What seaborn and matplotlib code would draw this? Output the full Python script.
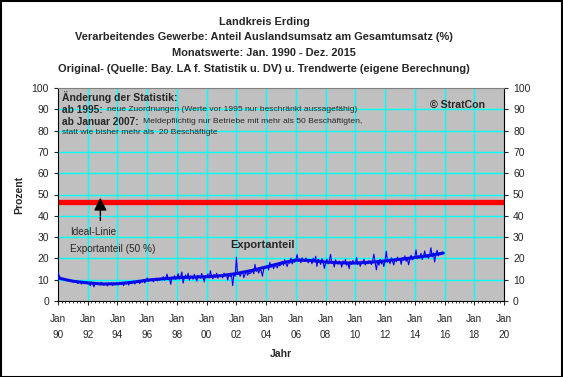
import numpy as np
import pandas as pd
import seaborn as sns
import matplotlib.pyplot as plt
from matplotlib.patches import Rectangle

# Monatswerte Exportanteil (%) Jan 1990 - Dez 2015
years = list(range(1990, 2016))
monthly = [
    [13.5, 11.8, 11.0, 10.2, 10.6, 9.8, 10.4, 9.5, 10.1, 9.2, 9.8, 9.6],
    [9.0, 9.6, 8.7, 9.3, 8.2, 9.1, 8.8, 7.9, 9.0, 8.6, 8.3, 9.2],
    [8.4, 8.1, 7.2, 8.9, 8.0, 6.6, 8.3, 8.6, 7.7, 8.2, 7.5, 8.8],
    [8.0, 7.4, 8.2, 7.9, 7.1, 8.3, 7.8, 8.5, 7.3, 8.0, 7.6, 8.4],
    [8.2, 7.6, 8.8, 7.9, 8.4, 7.2, 8.6, 8.0, 8.9, 7.5, 8.3, 9.0],
    [8.4, 9.3, 8.0, 9.0, 8.6, 9.5, 8.2, 9.1, 8.9, 9.8, 8.5, 9.6],
    [10.8, 9.2, 10.1, 9.6, 10.5, 9.0, 9.9, 10.7, 9.4, 10.2, 9.7, 10.4],
    [10.3, 11.4, 9.6, 10.8, 12.6, 10.0, 10.7, 7.8, 11.2, 10.5, 11.9, 10.1],
    [11.0, 12.8, 10.3, 11.5, 13.6, 8.4, 11.1, 12.2, 10.6, 13.0, 9.7, 11.8],
    [11.4, 10.2, 12.5, 11.0, 9.3, 12.1, 11.6, 10.7, 12.9, 11.2, 9.0, 12.0],
    [11.3, 12.7, 10.8, 14.2, 11.6, 10.4, 12.4, 11.1, 13.0, 10.7, 12.1, 11.5],
    [12.0, 10.9, 13.1, 11.8, 12.6, 9.8, 12.9, 11.4, 12.3, 7.2, 12.8, 11.6],
    [20.5, 12.4, 13.5, 11.6, 12.9, 13.7, 11.0, 12.6, 13.9, 12.1, 13.3, 12.8],
    [13.5, 14.4, 12.8, 17.2, 13.9, 14.8, 13.1, 15.0, 14.2, 11.6, 14.9, 15.3],
    [15.5, 16.4, 14.6, 18.1, 15.8, 16.9, 15.2, 17.0, 16.2, 15.6, 17.3, 16.5],
    [17.2, 18.6, 16.8, 19.4, 17.5, 16.2, 18.3, 17.7, 20.1, 17.4, 18.8, 18.2],
    [19.4, 21.8, 18.6, 19.9, 18.0, 20.3, 19.1, 18.7, 20.2, 19.5, 17.9, 19.3],
    [19.2, 17.5, 20.1, 18.4, 21.0, 16.2, 19.6, 18.8, 17.2, 19.9, 18.5, 15.3],
    [18.0, 19.6, 17.4, 18.9, 21.9, 17.6, 18.5, 16.0, 19.3, 18.1, 17.3, 18.7],
    [18.2, 15.9, 18.8, 17.5, 19.4, 16.8, 17.9, 15.2, 18.6, 17.2, 19.0, 17.8],
    [17.6, 20.4, 17.2, 18.3, 16.3, 18.7, 17.9, 19.6, 16.9, 18.2, 17.5, 18.9],
    [18.4, 17.1, 19.2, 22.0, 17.8, 14.6, 18.9, 16.8, 19.5, 17.4, 18.7, 16.2],
    [18.9, 23.4, 18.2, 19.6, 17.5, 20.3, 18.7, 16.9, 19.8, 18.4, 20.6, 19.1],
    [19.8, 17.2, 20.4, 19.1, 21.2, 18.6, 20.0, 17.0, 19.7, 21.5, 19.3, 20.2],
    [20.6, 24.0, 19.8, 21.3, 20.2, 22.4, 19.5, 21.0, 23.5, 20.4, 21.8, 19.9],
    [21.5, 25.0, 20.7, 22.6, 18.3, 21.9, 23.8, 21.2, 22.4, 21.7, 23.0, 22.5],
]

# Trendwerte (jeweils Januar, zuletzt Dezember 2015)
trend_x = [1990, 1991, 1992, 1993, 1994, 1995, 1996, 1997, 1998, 1999, 2000, 2001, 2002,
           2003, 2004, 2005, 2006, 2007, 2008, 2009, 2010, 2011, 2012, 2013, 2014, 2015, 2015 + 11 / 12]
trend_y = [10.8, 9.3, 8.5, 8.0, 8.1, 8.8, 9.8, 10.4, 10.9, 11.2, 11.4, 11.9, 12.9,
           14.3, 16.0, 17.8, 19.2, 19.0, 18.3, 17.9, 17.8, 18.2, 18.8, 19.6, 20.4, 21.4, 22.5]

ideal_line = 46.5
tick_years = list(range(1990, 2021, 2))
tick_labels = [f'Jan\n{y % 100:02d}' for y in tick_years]

df = pd.DataFrame({
    'Jahr': [y + m / 12 for y in years for m in range(12)],
    'Prozent': [v for row in monthly for v in row],
})
df_trend = pd.DataFrame({'Jahr': trend_x, 'Prozent': trend_y})

sns.set_style('ticks', {'axes.facecolor': '#C0C0C0', 'axes.edgecolor': 'black'})
plt.rcParams['font.family'] = ['Liberation Sans', 'DejaVu Sans']

fig = plt.figure(figsize=(5.63, 3.77), dpi=100)
ax = fig.add_axes([58 / 563, 76 / 377, 446 / 563, 213 / 377])

# Gitter
for y in range(10, 100, 10):
    ax.axhline(y, color='#00FFFF', lw=1, zorder=1)
for x in tick_years[1:-1]:
    ax.axvline(x, color='#00FFFF', lw=1, zorder=1)

ax.axhline(ideal_line, color='#FF0000', lw=3.8, zorder=2)

sns.lineplot(data=df, x='Jahr', y='Prozent', color='#0000FF', lw=0.8, ax=ax, zorder=3)
sns.lineplot(data=df_trend, x='Jahr', y='Prozent', color='#0A0AE6', lw=2.2, ax=ax, zorder=4)

ax.set_xlim(1990, 2020)
ax.set_ylim(0, 100)
ax.set_xticks(tick_years)
ax.set_xticklabels(tick_labels, fontsize=7.2, linespacing=1.75)
ax.set_xticks(np.arange(1990, 2020, 0.25), minor=True)
ax.set_yticks(range(0, 101, 10))
ax.tick_params(axis='y', labelsize=7.5, right=True, labelright=True, length=3, width=0.8)
ax.tick_params(axis='x', which='major', length=3, width=0.8, pad=6)
ax.tick_params(axis='x', which='minor', length=1.5, width=0.6)
ax.spines['top'].set_color('#808080')
ax.set_xlabel('Jahr', fontsize=7.5, fontweight='bold', labelpad=7)
ax.set_ylabel('Prozent', fontsize=7.5, fontweight='bold', labelpad=5)

# Titel
titles = ['Landkreis Erding',
          'Verarbeitendes Gewerbe: Anteil Auslandsumsatz am Gesamtumsatz (%)',
          'Monatswerte: Jan. 1990 - Dez. 2015',
          'Original- (Quelle: Bay. LA f. Statistik u. DV) u. Trendwerte (eigene Berechnung)']
for i, t in enumerate(titles):
    fig.text(264 / 563, 1 - (22 + i * 15.5) / 377, t, ha='center', va='center',
             fontsize=7.9, fontweight='bold')

# Hinweise
ax.text(1990.3, 95.8, 'Änderung der Statistik:', fontsize=7.5, fontweight='bold', va='center')
b1 = ax.text(1990.3, 89.8, 'ab 1995:', fontsize=7.3, fontweight='bold', va='center')
ax.annotate('neue Zuordnungen (Werte vor 1995 nur beschränkt aussagefähig)',
            xy=(1, 0.5), xycoords=b1, xytext=(3, 0), textcoords='offset points',
            fontsize=6.1, va='center')
b2 = ax.text(1990.3, 84.2, 'ab Januar 2007:', fontsize=7.3, fontweight='bold', va='center')
ax.annotate('Meldepflichtig nur Betriebe mit mehr als 50 Beschäftigten,',
            xy=(1, 0.5), xycoords=b2, xytext=(3, 0), textcoords='offset points',
            fontsize=6.1, va='center')
ax.text(1990.3, 79.0, 'statt wie bisher mehr als  20 Beschäftigte', fontsize=6.1, va='center')
ax.text(2015.0, 92, '© StratCon', fontsize=7.6, fontweight='bold', va='center')

ax.annotate('', xy=(1992.85, 49.8), xytext=(1992.85, 36.5),
            arrowprops=dict(arrowstyle='-|>,head_width=0.35,head_length=0.7', color='black',
                            lw=1, mutation_scale=11))
ax.text(1990.8, 32.5, 'Ideal-Linie', fontsize=7.2, va='center')
ax.text(1990.8, 24.5, 'Exportanteil (50 %)', fontsize=7.2, va='center')
ax.text(2001.6, 26.5, 'Exportanteil', fontsize=8, fontweight='bold', va='center')

fig.patches.append(Rectangle((0.001, 0.001), 0.997, 0.996, transform=fig.transFigure,
                             fill=False, edgecolor='black', lw=1.5))

fig.savefig('out.png', dpi=100)
plt.close()
